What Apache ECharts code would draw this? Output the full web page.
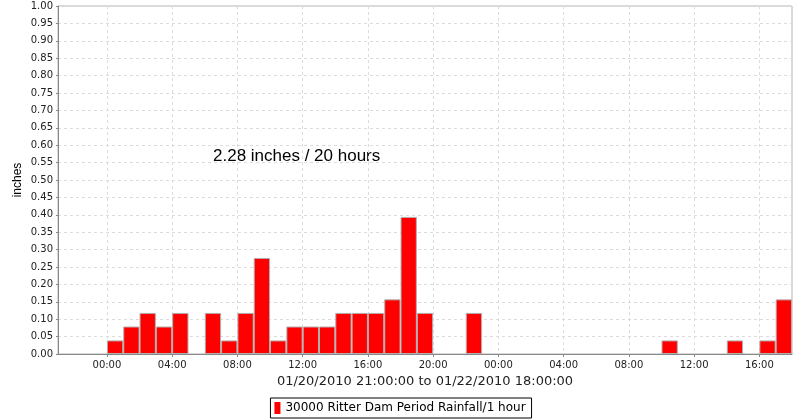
<!DOCTYPE html>
<html>
<head>
<meta charset="utf-8">
<script src="https://cdn.jsdelivr.net/npm/echarts@6/dist/echarts.min.js"></script>
<style>
  html, body { margin: 0; padding: 0; background: #fff; }
  #chart { width: 800px; height: 420px; }
</style>
</head>
<body>
<div id="chart"></div>
<script>
// hours counted from 01/21/2010 00:00, first bar starts 01/20 21:00
var startHour = -3
var endHour = 42
// tick positions (hours), every 4 hours from midnight
var tickHours = [0, 4, 8, 12, 16, 20, 24, 28, 32, 36, 40]
// hourly rainfall (inches), one value per hour from 21:00
var rainfall = [
  0, 0, 0,
  0.039, 0.079, 0.118, 0.079, 0.118, 0, 0.118, 0.039, 0.118, 0.276, 0.039, 0.079,
  0.079, 0.079, 0.118, 0.118, 0.118, 0.157, 0.394, 0.118, 0, 0, 0.118, 0,
  0, 0, 0, 0, 0, 0, 0, 0, 0, 0, 0.039, 0, 0, 0, 0.039, 0, 0.039, 0.157
]
var seriesName = '30000 Ritter Dam Period Rainfall/1 hour'
var xAxisTitle = '01/20/2010 21:00:00 to 01/22/2010 18:00:00'
var noteText = '2.28 inches / 20 hours'

var barData = rainfall.map(function (v, i) {
  return [startHour + i + 0.5, v === 0 ? '-' : v]
})

var chart = echarts.init(document.getElementById('chart'))
chart.setOption({
  animation: false,
  textStyle: { fontFamily: 'DejaVu Sans' },
  grid: {
    left: 58, right: 8, top: 6, bottom: 66,
    show: true, borderColor: '#b4b4b4', borderWidth: 1
  },
  legend: {
    bottom: 2,
    left: 'center',
    data: [seriesName],
    icon: 'rect',
    itemWidth: 6,
    itemHeight: 12,
    itemGap: 2,
    itemStyle: { borderWidth: 0 },
    borderColor: '#000',
    borderWidth: 1,
    borderRadius: 0,
    padding: [4, 6, 4, 4],
    textStyle: { fontFamily: 'DejaVu Sans', fontSize: 12, color: '#000' }
  },
  graphic: [{
    type: 'text',
    left: 213,
    top: 148,
    style: {
      text: noteText,
      font: '17px "Liberation Sans"',
      fill: '#000'
    }
  }],
  xAxis: {
    type: 'value',
    min: startHour,
    max: endHour,
    name: xAxisTitle,
    nameLocation: 'middle',
    nameGap: 21,
    nameTextStyle: { fontFamily: 'DejaVu Sans', fontSize: 13, color: '#222' },
    axisLine: { show: true, onZero: false, lineStyle: { color: '#888', width: 1 } },
    axisTick: { show: true, length: 3, customValues: tickHours, lineStyle: { color: '#888' } },
    axisLabel: {
      customValues: tickHours,
      fontSize: 10,
      color: '#222',
      margin: 6,
      formatter: function (v) {
        var h = ((v % 24) + 24) % 24
        return (h < 10 ? '0' : '') + h + ':00'
      }
    },
    splitLine: { show: true, lineStyle: { color: '#dcdcdc', type: [3, 3] } }
  },
  yAxis: {
    type: 'value',
    min: 0,
    max: 1,
    interval: 0.05,
    name: 'inches',
    nameLocation: 'middle',
    nameGap: 34,
    nameMoveOverlap: false,
    nameTextStyle: { fontFamily: 'Liberation Sans', fontSize: 12, color: '#000' },
    axisLine: { show: true, onZero: false, lineStyle: { color: '#888', width: 1 } },
    axisTick: { show: true, length: 2, lineStyle: { color: '#888' } },
    axisLabel: {
      fontSize: 10,
      color: '#222',
      margin: 5,
      formatter: function (v) { return v.toFixed(2) }
    },
    splitLine: { show: true, lineStyle: { color: '#dcdcdc', type: [3, 3] } }
  },
  series: [{
    name: seriesName,
    type: 'bar',
    data: barData,
    barCategoryGap: '0%',
    itemStyle: { color: '#ff0000', borderColor: '#b0b0b0', borderWidth: 1 }
  }]
})
</script>
</body>
</html>
